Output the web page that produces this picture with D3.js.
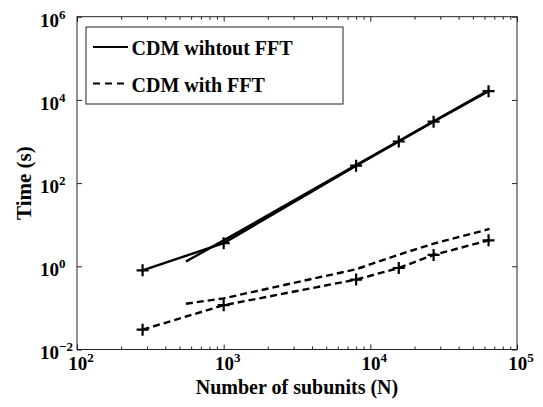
<!DOCTYPE html>
<html>
<head>
<meta charset="utf-8">
<script src="https://cdn.jsdelivr.net/npm/d3@7"></script>
<style>
  body { margin: 0; background: #fff; }
</style>
</head>
<body>
<svg width="543" height="407"></svg>
<script>
// measured points (marked series)
var nMarked = [280, 1000, 8000, 15625, 27000, 64000];
var tWithout = [0.80, 3.6, 262, 1000, 3000, 16200];
var tWith = [0.030, 0.116, 0.48, 0.91, 1.88, 4.2];
// unmarked companion curves
var nFit = [553, 1000, 8000, 15625, 27000, 65000];
var tWithoutFit = [1.3, 4.2, 270, 1030, 3080, 17600];
var tWithFit = [0.126, 0.17, 0.85, 1.9, 3.5, 7.9];

var xMajor = [1e2, 1e3, 1e4, 1e5];
var yMajor = [1e-2, 1e0, 1e2, 1e4, 1e6];
var legendLabels = ["CDM wihtout FFT", "CDM with FFT"];

var FONT = "'Liberation Serif', 'Times New Roman', Times, 'DejaVu Serif', serif";

var svg = d3.select("svg"),
    margin = {top: 16.7, right: 26, bottom: 57.5, left: 77},
    width = +svg.attr("width") - margin.left - margin.right,
    height = +svg.attr("height") - margin.top - margin.bottom,
    g = svg.append("g").attr("transform", "translate(" + margin.left + "," + margin.top + ")");

var x = d3.scaleLog().domain([1e2, 1e5]).range([0, width]);
var y = d3.scaleLog().domain([1e-2, 1e6]).range([height, 0]);

var xMinor = [];
xMajor.slice(0, -1).forEach(function (d) {
    for (var k = 2; k <= 9; k++) xMinor.push(d * k);
});

function styleAxis(sel) {
    sel.select(".domain").remove();
    sel.selectAll("line").attr("stroke", "#222").attr("stroke-width", 1);
}

// ticks pointing inward on all four sides
g.append("g").attr("transform", "translate(0," + height + ")")
    .call(d3.axisBottom(x).tickValues(xMajor).tickSize(-5).tickFormat("")).call(styleAxis);
g.append("g").attr("transform", "translate(0," + height + ")")
    .call(d3.axisBottom(x).tickValues(xMinor).tickSize(-3).tickFormat("")).call(styleAxis);
g.append("g")
    .call(d3.axisTop(x).tickValues(xMajor).tickSize(-5).tickFormat("")).call(styleAxis);
g.append("g")
    .call(d3.axisTop(x).tickValues(xMinor).tickSize(-3).tickFormat("")).call(styleAxis);
g.append("g")
    .call(d3.axisLeft(y).tickValues(yMajor).tickSize(-5).tickFormat("")).call(styleAxis);
g.append("g").attr("transform", "translate(" + width + ",0)")
    .call(d3.axisRight(y).tickValues(yMajor).tickSize(-5).tickFormat("")).call(styleAxis);

g.append("rect")
    .attr("width", width).attr("height", height)
    .attr("fill", "none").attr("stroke", "#222").attr("stroke-width", 1);

// tick labels 10^k
function exp(d) { return Math.round(Math.log10(d)); }

var xl = g.selectAll(".xl").data(xMajor).enter().append("text")
    .attr("class", "xl")
    .attr("x", function (d) { return x(d) + 4; })
    .attr("y", height + 21)
    .attr("text-anchor", "middle")
    .attr("font-family", FONT).attr("font-weight", "bold")
    .attr("font-size", 19);
xl.append("tspan").text("10");
xl.append("tspan").attr("dy", -8).attr("font-size", 13).text(function (d) { return exp(d); });

var yl = g.selectAll(".yl").data(yMajor).enter().append("text")
    .attr("class", "yl")
    .attr("x", -37)
    .attr("y", function (d) { return y(d) + 10; })
    .attr("font-family", FONT).attr("font-weight", "bold")
    .attr("font-size", 19);
yl.append("tspan").text("10");
yl.append("tspan").attr("dy", -8).attr("font-size", 13)
    .text(function (d) { return exp(d) < 0 ? "\u2212" + (-exp(d)) : exp(d); });

// axis titles
svg.append("text")
    .attr("x", margin.left + width / 2)
    .attr("y", 394)
    .attr("text-anchor", "middle")
    .attr("font-family", FONT).attr("font-weight", "bold")
    .attr("font-size", 20)
    .text("Number of subunits (N)");

svg.append("text")
    .attr("transform", "translate(31," + (margin.top + height / 2) + ") rotate(-90)")
    .attr("text-anchor", "middle")
    .attr("font-family", FONT).attr("font-weight", "bold")
    .attr("font-size", 21)
    .text("Time (s)");

// lines
var line = d3.line()
    .x(function (d) { return x(d[0]); })
    .y(function (d) { return y(d[1]); });

var series = [
    {n: nFit, t: tWithoutFit, dash: null, marks: false},
    {n: nFit, t: tWithFit, dash: "7,4", marks: false},
    {n: nMarked, t: tWithout, dash: null, marks: true},
    {n: nMarked, t: tWith, dash: "7,4", marks: true}
];

series.forEach(function (s) {
    var pts = d3.zip(s.n, s.t);
    g.append("path")
        .datum(pts)
        .attr("d", line)
        .attr("fill", "none")
        .attr("stroke", "#000")
        .attr("stroke-width", 2.4)
        .attr("stroke-dasharray", s.dash);
    if (s.marks) {
        g.selectAll(null).data(pts).enter().append("path")
            .attr("transform", function (d) { return "translate(" + x(d[0]) + "," + y(d[1]) + ")"; })
            .attr("d", "M-6,0H6M0,-6V6")
            .attr("stroke", "#000")
            .attr("stroke-width", 2.2);
    }
});

// legend
var lg = svg.append("g").attr("transform", "translate(86,27)");
lg.append("rect")
    .attr("width", 257).attr("height", 77)
    .attr("fill", "#fff").attr("stroke", "#222").attr("stroke-width", 1);
var items = lg.selectAll(".li").data(legendLabels).enter().append("g")
    .attr("transform", function (d, i) { return "translate(0," + (20 + i * 36.5) + ")"; });
items.append("line")
    .attr("x1", 7).attr("x2", 42)
    .attr("stroke", "#000").attr("stroke-width", 2)
    .attr("stroke-dasharray", function (d, i) { return i ? "7,5" : null; });
items.append("text")
    .attr("x", 45.5).attr("y", 8)
    .attr("font-family", FONT).attr("font-weight", "bold")
    .attr("font-size", 20)
    .text(function (d) { return d; });
</script>
</body>
</html>
